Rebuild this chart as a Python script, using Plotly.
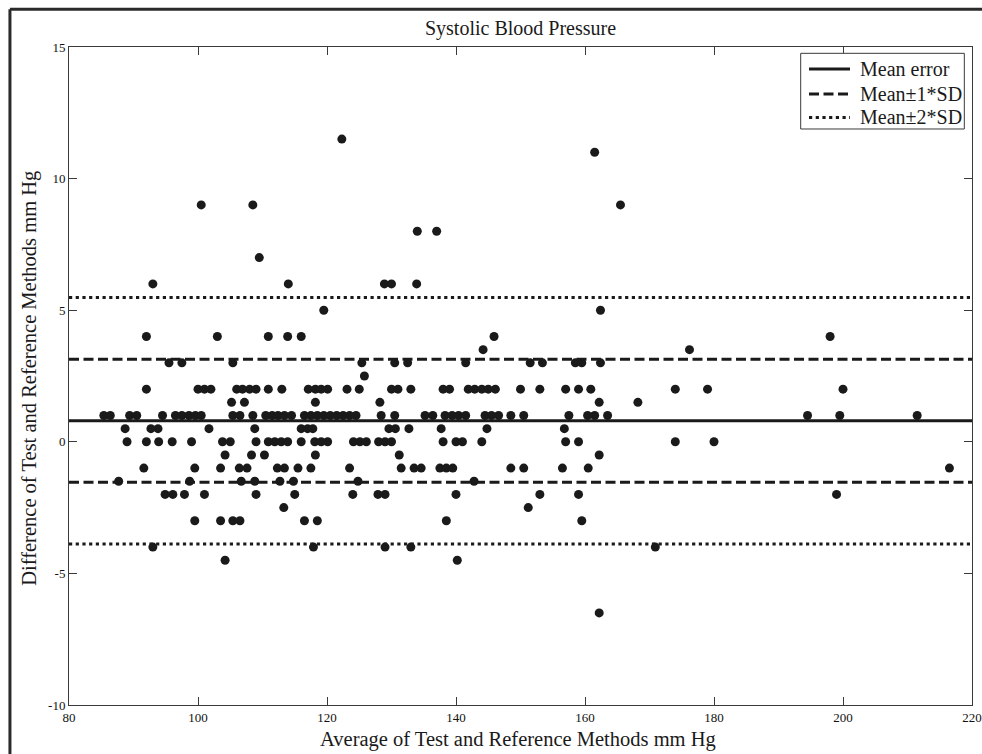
import plotly.graph_objects as go

# ---------------- data ----------------
title_text = "Systolic Blood Pressure"
x_title = "Average of Test and Reference Methods mm Hg"
y_title = "Difference of Test and Reference Methods mm Hg"

x_ticks = [80, 100, 120, 140, 160, 180, 200, 220]
y_ticks = [-10, -5, 0, 5, 10, 15]
x_range = [80, 220]
y_range = [-10, 15]

mean_error = 0.80
sd_error = 2.34

legend_labels = ["Mean error", "Mean\u00b11*SD", "Mean\u00b12*SD"]

avg_mm_hg = [
    122.3,
    161.5,
    100.5, 108.5, 165.5,
    134.0, 137.0,
    109.5,
    93.0, 114.0, 128.9, 130.0, 133.9,
    119.5, 162.4,
    92.0, 103.0, 110.9, 113.9, 116.0, 145.9, 198.0,
    144.2, 176.2,
    95.5, 97.5, 105.4, 125.4, 130.5, 132.5, 141.5, 151.5, 153.4, 158.5, 159.5, 162.4,
    125.8,
    92.0, 100.0, 101.0, 102.0, 106.0, 106.9, 108.0, 109.0, 110.9, 113.0,
    117.1, 118.2, 119.1, 120.1, 123.1, 125.0, 130.0, 131.0, 133.0, 138.0,
    139.0, 141.9, 142.9, 144.0, 145.0, 146.1, 150.0, 153.0, 157.0, 159.0,
    160.9, 174.0, 179.0, 200.0,
    105.2, 107.2, 118.2, 128.2, 162.2, 168.2,
    85.4, 86.4, 89.4, 90.5, 94.5, 96.5, 97.5, 98.6, 99.6, 100.5,
    105.4, 106.5, 108.5, 110.5, 111.5, 112.4, 113.4, 114.5, 116.5, 117.5,
    118.5, 119.5, 120.5, 121.5, 122.5, 123.5, 124.5, 128.4, 130.5, 135.2,
    136.4, 138.3, 139.4, 140.4, 141.5, 144.5, 145.5, 146.6, 148.5, 150.5,
    157.5, 160.4, 161.5, 163.5, 194.5, 199.5, 211.5,
    88.7, 92.7, 93.8, 101.7, 108.8, 116.0, 117.0, 117.8, 129.6, 130.6,
    132.7, 137.7, 144.8, 156.8,
    89.0, 92.0, 93.9, 96.0, 99.0, 103.8, 105.0, 109.0, 110.9, 111.9,
    112.9, 113.9, 116.0, 118.1, 119.1, 120.1, 124.1, 125.1, 126.1, 128.0,
    129.0, 130.0, 138.0, 140.0, 141.0, 144.0, 157.0, 159.0, 174.0, 180.0,
    104.2, 108.3, 110.3, 118.2, 131.2, 162.2,
    91.6, 99.5, 103.5, 106.4, 107.6, 112.3, 113.4, 115.5, 117.5, 123.5,
    131.5, 133.5, 134.6, 137.5, 138.5, 139.5, 148.5, 150.5, 156.5, 160.5,
    216.5,
    87.7, 98.7, 106.7, 108.8, 112.7, 114.8, 124.8, 142.8,
    94.9, 96.1, 97.9, 101.0, 109.0, 115.0, 124.0, 127.9, 129.0, 140.0,
    153.0, 159.0, 199.0,
    113.3, 151.2,
    99.5, 103.5, 105.4, 106.5, 116.5, 118.5, 138.5, 159.5,
    93.0, 117.9, 129.0, 133.0, 170.9,
    104.2, 140.2,
    162.2,
]

diff_mm_hg = [
    11.5,
    11.0,
    9.0, 9.0, 9.0,
    8.0, 8.0,
    7.0,
    6.0, 6.0, 6.0, 6.0, 6.0,
    5.0, 5.0,
    4.0, 4.0, 4.0, 4.0, 4.0, 4.0, 4.0,
    3.5, 3.5,
    3.0, 3.0, 3.0, 3.0, 3.0, 3.0, 3.0, 3.0, 3.0, 3.0, 3.0, 3.0,
    2.5,
    2.0, 2.0, 2.0, 2.0, 2.0, 2.0, 2.0, 2.0, 2.0, 2.0,
    2.0, 2.0, 2.0, 2.0, 2.0, 2.0, 2.0, 2.0, 2.0, 2.0,
    2.0, 2.0, 2.0, 2.0, 2.0, 2.0, 2.0, 2.0, 2.0, 2.0,
    2.0, 2.0, 2.0, 2.0,
    1.5, 1.5, 1.5, 1.5, 1.5, 1.5,
    1.0, 1.0, 1.0, 1.0, 1.0, 1.0, 1.0, 1.0, 1.0, 1.0,
    1.0, 1.0, 1.0, 1.0, 1.0, 1.0, 1.0, 1.0, 1.0, 1.0,
    1.0, 1.0, 1.0, 1.0, 1.0, 1.0, 1.0, 1.0, 1.0, 1.0,
    1.0, 1.0, 1.0, 1.0, 1.0, 1.0, 1.0, 1.0, 1.0, 1.0,
    1.0, 1.0, 1.0, 1.0, 1.0, 1.0, 1.0,
    0.5, 0.5, 0.5, 0.5, 0.5, 0.5, 0.5, 0.5, 0.5, 0.5,
    0.5, 0.5, 0.5, 0.5,
    0.0, 0.0, 0.0, 0.0, 0.0, 0.0, 0.0, 0.0, 0.0, 0.0,
    0.0, 0.0, 0.0, 0.0, 0.0, 0.0, 0.0, 0.0, 0.0, 0.0,
    0.0, 0.0, 0.0, 0.0, 0.0, 0.0, 0.0, 0.0, 0.0, 0.0,
    -0.5, -0.5, -0.5, -0.5, -0.5, -0.5,
    -1.0, -1.0, -1.0, -1.0, -1.0, -1.0, -1.0, -1.0, -1.0, -1.0,
    -1.0, -1.0, -1.0, -1.0, -1.0, -1.0, -1.0, -1.0, -1.0, -1.0,
    -1.0,
    -1.5, -1.5, -1.5, -1.5, -1.5, -1.5, -1.5, -1.5,
    -2.0, -2.0, -2.0, -2.0, -2.0, -2.0, -2.0, -2.0, -2.0, -2.0,
    -2.0, -2.0, -2.0,
    -2.5, -2.5,
    -3.0, -3.0, -3.0, -3.0, -3.0, -3.0, -3.0, -3.0,
    -4.0, -4.0, -4.0, -4.0, -4.0,
    -4.5, -4.5,
    -6.5,
]

assert len(avg_mm_hg) == len(diff_mm_hg)

# ---------------- styling ----------------
FONT = "Liberation Serif, Times New Roman, serif"
INK = "#1a1a1a"
AXIS = "#3a3a3a"
DASHES = ["solid", "10px,4.5px", "3.2px,3.5px"]

fig = go.Figure()

fig.add_trace(go.Scatter(
    x=avg_mm_hg, y=diff_mm_hg, mode="markers",
    marker=dict(size=9, color=INK, line=dict(width=0)),
    showlegend=False, hoverinfo="x+y",
))

line_levels = [
    [mean_error],
    [mean_error + sd_error, mean_error - sd_error],
    [mean_error + 2 * sd_error, mean_error - 2 * sd_error],
]
for idx, levels in enumerate(line_levels):
    for lv in levels:
        fig.add_trace(go.Scatter(
            x=x_range, y=[lv, lv], mode="lines",
            line=dict(color=INK, width=3, dash=DASHES[idx]),
            name=legend_labels[idx], showlegend=False, hoverinfo="skip",
        ))

axis_common = dict(
    showgrid=False, zeroline=False, showline=True, linecolor=AXIS, linewidth=1,
    mirror="ticks", ticks="inside", ticklen=8, tickwidth=1, tickcolor=AXIS,
    tickfont=dict(family=FONT, size=13, color="#111111"),
    automargin=False,
)

fig.update_xaxes(range=x_range, tickvals=x_ticks, ticktext=[str(v) for v in x_ticks],
                 **axis_common)
fig.update_yaxes(range=y_range, tickvals=y_ticks, ticktext=[str(v) for v in y_ticks],
                 **axis_common)

# ---- legend box (drawn in paper coordinates, top-right of the axes) ----
leg_x0, leg_x1 = 0.8103, 0.9915
leg_y0, leg_y1 = 0.8754, 0.9904
sample_x0, sample_x1 = 0.8195, 0.8649
text_x = 0.8738
row_y = [0.9666, 0.9286, 0.8929]

shapes = [
    dict(type="rect", xref="paper", yref="paper",
         x0=leg_x0, x1=leg_x1, y0=leg_y0, y1=leg_y1,
         line=dict(color=AXIS, width=1), fillcolor="white", layer="above"),
]
annotations = []
for i, lab in enumerate(legend_labels):
    shapes.append(dict(type="line", xref="paper", yref="paper",
                       x0=sample_x0, x1=sample_x1, y0=row_y[i], y1=row_y[i],
                       line=dict(color=INK, width=3, dash=DASHES[i]), layer="above"))
    annotations.append(dict(text=lab, xref="paper", yref="paper", x=text_x, y=row_y[i],
                            xanchor="left", yanchor="middle", showarrow=False,
                            font=dict(family=FONT, size=20, color=INK)))

annotations += [
    dict(text=x_title, xref="paper", yref="paper", x=0.4967, y=-0.052,
         xanchor="center", yanchor="middle", showarrow=False,
         font=dict(family=FONT, size=20.5, color=INK)),
    dict(text=y_title, xref="paper", yref="paper", x=-0.044, y=0.4962,
         xanchor="center", yanchor="middle", showarrow=False, textangle=-90,
         font=dict(family=FONT, size=20.5, color=INK)),
]

# outer picture frame (left and top edges visible in the reference)
shapes += [
    dict(type="line", xref="paper", yref="paper",
         x0=-0.0654, x1=1.2, y0=1.0572, y1=1.0572,
         line=dict(color="#2a2a2a", width=3)),
    dict(type="line", xref="paper", yref="paper",
         x0=-0.0654, x1=-0.0654, y0=-0.2, y1=1.0572,
         line=dict(color="#2a2a2a", width=3)),
]

fig.update_layout(
    width=982, height=754,
    margin=dict(l=69, r=10, t=47, b=49, autoexpand=False),
    paper_bgcolor="white", plot_bgcolor="white",
    font=dict(family=FONT, color=INK),
    title=dict(text=title_text, x=0.5, xref="paper", xanchor="center",
               y=1 - 28 / 754, yref="container", yanchor="middle",
               font=dict(family=FONT, size=20, color=INK)),
    showlegend=False,
    annotations=annotations,
    shapes=shapes,
    hovermode="closest",
)

fig.write_html(
    "out.html",
    config={"displayModeBar": False},
    post_script="document.body.style.margin='0';document.body.style.overflow='hidden';",
)
